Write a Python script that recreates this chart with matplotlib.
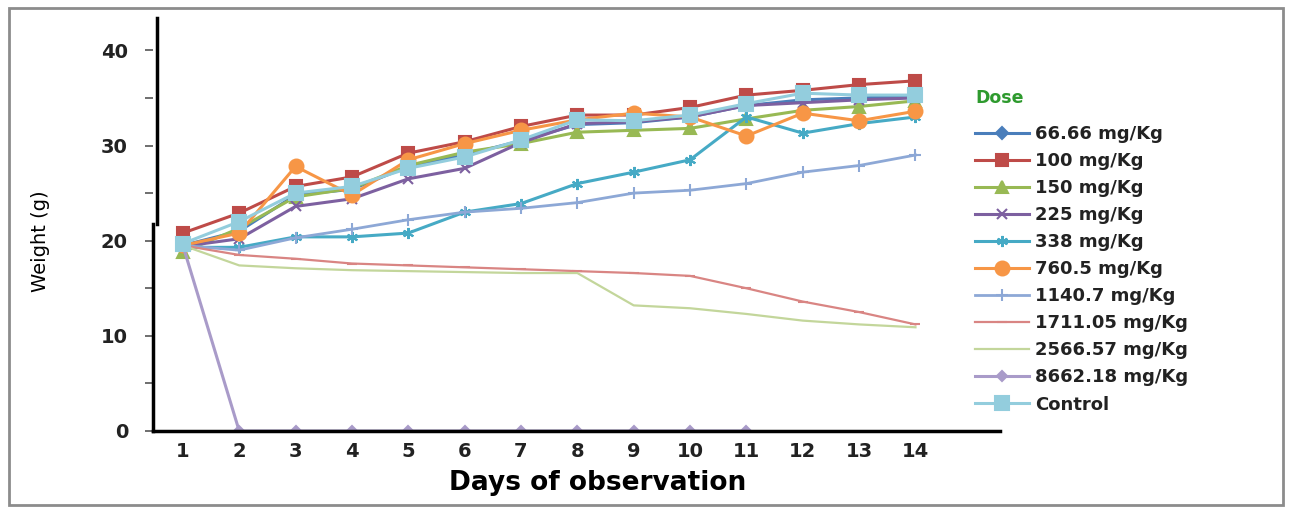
import matplotlib
matplotlib.use("Agg")
import matplotlib.pyplot as plt
import numpy as np
from matplotlib.lines import Line2D
from matplotlib.patches import Rectangle

# dados
days = list(range(1, 15))
dose_labels = ["66.66 mg/Kg", "100 mg/Kg", "150 mg/Kg", "225 mg/Kg", "338 mg/Kg",
               "760.5 mg/Kg", "1140.7 mg/Kg", "1711.05 mg/Kg", "2566.57 mg/Kg",
               "8662.18 mg/Kg", "Control"]

dose_66 = [19.5, 21.0, 24.8, 25.4, 27.8, 29.0, 30.5, 32.2, 32.4, 33.0, 34.2, 34.8, 35.0, 35.2]
dose_100 = [20.8, 22.9, 25.7, 26.7, 29.2, 30.4, 32.0, 33.2, 33.2, 34.0, 35.3, 35.8, 36.4, 36.8]
dose_150 = [18.8, 21.3, 24.6, 25.5, 27.9, 29.3, 30.2, 31.4, 31.6, 31.8, 32.8, 33.7, 34.1, 34.7]
dose_225 = [19.4, 20.2, 23.6, 24.4, 26.5, 27.6, 30.3, 32.3, 32.5, 33.0, 34.2, 34.5, 34.8, 35.0]
dose_338 = [19.3, 19.3, 20.4, 20.4, 20.8, 23.0, 23.9, 26.0, 27.2, 28.5, 33.0, 31.3, 32.3, 33.0]
dose_760 = [19.5, 20.8, 27.8, 24.8, 28.5, 30.2, 31.6, 32.7, 33.4, 33.0, 31.0, 33.4, 32.6, 33.6]
dose_1140 = [19.5, 19.0, 20.3, 21.2, 22.2, 23.0, 23.4, 24.0, 25.0, 25.3, 26.0, 27.2, 27.9, 29.0]
dose_1711 = [19.5, 18.5, 18.1, 17.6, 17.4, 17.2, 17.0, 16.8, 16.6, 16.3, 15.0, 13.6, 12.5, 11.2]
dose_2566 = [19.5, 17.4, 17.1, 16.9, 16.8, 16.7, 16.6, 16.6, 13.2, 12.9, 12.3, 11.6, 11.2, 10.9]
dose_8662 = [19.5, 0, 0, 0, 0, 0, 0, 0, 0, 0, 0, np.nan, np.nan, np.nan]
control = [19.7, 22.0, 25.0, 25.7, 27.6, 28.8, 30.6, 32.7, 32.6, 33.2, 34.4, 35.5, 35.3, 35.3]

series = [dose_66, dose_100, dose_150, dose_225, dose_338, dose_760,
          dose_1140, dose_1711, dose_2566, dose_8662, control]

# estilo de cada serie (cor, marcador, tamanho, espessura)
estilos = [
    ("#4A7EBB", "D", 6, 2.2),
    ("#BE4B48", "s", 9, 2.2),
    ("#98B954", "^", 8, 2.2),
    ("#7D60A0", "x", 7, 2.2),
    ("#46AAC5", (6, 2, 0), 8, 2.2),
    ("#F79646", "o", 10, 2.2),
    ("#8DA8D6", "+", 8, 2.0),
    ("#D98583", "_", 7, 1.6),
    ("#C3D69B", "None", 5, 1.6),
    ("#A99BC9", "D", 5, 2.2),
    ("#93CDDD", "s", 10, 2.2),
]

fig = plt.figure(figsize=(12.89, 5.09), dpi=100)
W, H = 1289, 509
ax = fig.add_axes([153 / W, 1 - 431 / H, (1000 - 153) / W, (431 - 18) / H])

handles = []
for valores, rotulo, (cor, mk, ms, lw) in zip(series, dose_labels, estilos):
    h, = ax.plot(days, valores, color=cor, marker=mk, markersize=ms, linewidth=lw,
                 markeredgecolor=cor, markeredgewidth=1.5, label=rotulo)
    handles.append(h)

ax.set_xlim(0.47, 15.5)
ax.set_ylim(0, 43.4)
ax.set_xticks(days)
ax.set_yticks([0, 10, 20, 30, 40])
ax.set_yticks([5, 15, 25, 35], minor=True)

for s in ["top", "right"]:
    ax.spines[s].set_visible(False)
ax.spines["bottom"].set_linewidth(2.5)
ax.spines["left"].set_linewidth(2.5)
ax.spines["left"].set_bounds(0, 21.8)

# pedaco de cima do eixo y, levemente deslocado como no original
fig.add_artist(Line2D([156.5 / W, 156.5 / W], [1 - 224 / H, 1 - 18 / H],
                      transform=fig.transFigure, color="black", linewidth=2.5))

ax.tick_params(axis="y", which="both", direction="out", length=6, width=1.2,
               color="#555555", labelsize=14, pad=12)
ax.tick_params(axis="x", length=0, labelsize=14, pad=8)
for lab in ax.get_xticklabels() + ax.get_yticklabels():
    lab.set_fontweight("bold")
    lab.set_color("#222222")

ax.set_xlabel("Days of observation", fontsize=19, fontweight="bold")
ax.xaxis.set_label_coords(0.525, -0.095)
fig.text(40 / W, 1 - 241 / H, "Weight (g)", rotation=90, fontsize=14,
         ha="center", va="center")

fig.text(975 / W, 1 - 98 / H, "Dose", fontsize=12.5, fontweight="bold",
         color="#2E9A2E", ha="left", va="center")
leg = fig.legend(handles=handles, loc="upper left", bbox_to_anchor=(968 / W, 1 - 118 / H),
                 frameon=False, fontsize=13, handlelength=3.0, handletextpad=0.3,
                 labelspacing=0.5, borderaxespad=0)
for t in leg.get_texts():
    t.set_fontweight("bold")
    t.set_color("#222222")

# moldura externa
fig.add_artist(Rectangle((9 / W, 1 - 505 / H), (1283 - 9) / W, (505 - 8) / H,
                         transform=fig.transFigure, fill=False,
                         edgecolor="#8C8C8C", linewidth=2))

fig.savefig("out.png", dpi=100)
